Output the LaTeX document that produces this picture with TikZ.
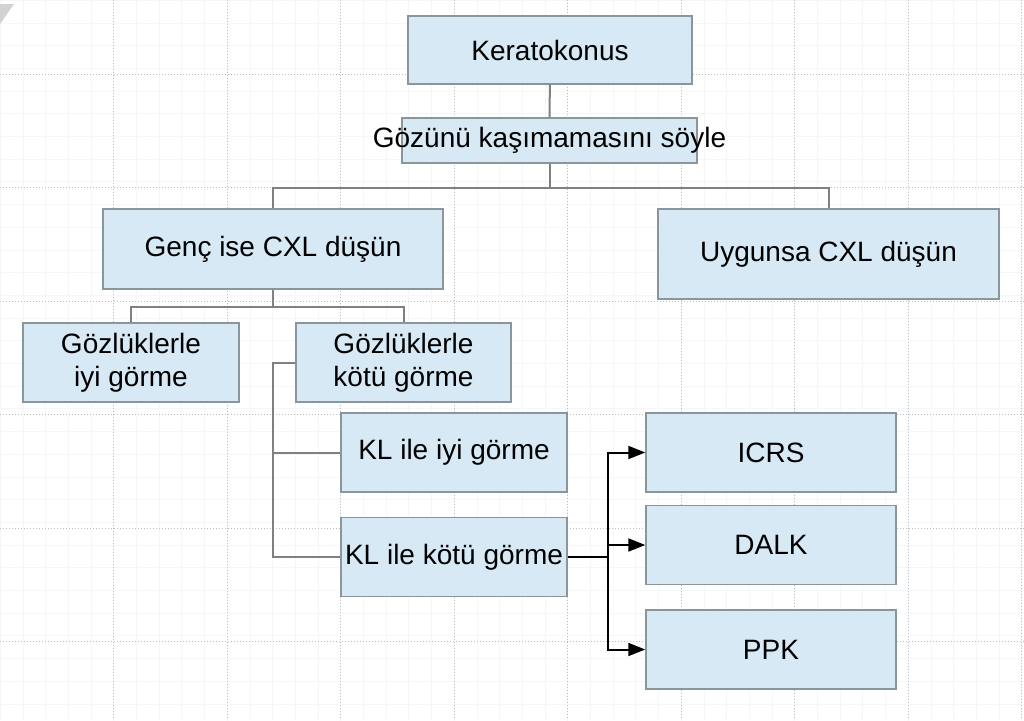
\documentclass[tikz,border=0pt]{standalone}
\usepackage{fontspec}
\setmainfont{Liberation Sans}
\definecolor{boxfill}{HTML}{D6E9F5}
\definecolor{boxline}{HTML}{8A969C}
\definecolor{linkgray}{HTML}{808080}
\definecolor{gridline}{HTML}{F4F7F9}
\definecolor{griddot}{HTML}{BCC0C3}
\usepackage{tikz}
\usetikzlibrary{arrows.meta,positioning,calc}

\begin{document}
\begin{tikzpicture}[
  x=1pt, y=-1pt,
  node distance=12pt,
  kbox/.style={rectangle, draw=boxline, line width=1.5pt, fill=boxfill, inner sep=0pt, align=center, minimum height=79pt, font=\fontsize{28}{33}\selectfont},
  link/.style={draw=linkgray, line width=2pt},
  arr/.style={draw=black, line width=2pt, -{Triangle[length=17pt,width=13pt]}},
]
\fill[white] (0,0) rectangle (1024,720);
\useasboundingbox (0,0) rectangle (1024,720);
\draw[gridline, line width=0.4pt, step=22.7pt] (0,0) grid (1024,720);
\foreach \gx in {113.5,227,...,1022} \draw[griddot, dotted, line width=1pt] (\gx,0) -- (\gx,720);
\foreach \gy in {74,187.5,...,700} \draw[griddot, dotted, line width=1pt] (0,\gy) -- (1024,\gy);
\fill[gray!35] (0,4) -- (14,4) -- (0,24) -- cycle;

\node[kbox, minimum width=284pt, minimum height=68pt] (ker) at (550,50) {Keratokonus};
\node[kbox, minimum width=295pt, minimum height=45pt] (goz) at (549.5,140.5) {\makebox[240pt]{Gözünü kaşımamasını söyle}};
\node[kbox, minimum width=340pt, minimum height=80pt] (genc) at (273,249) {Genç ise CXL düşün};
\node[kbox, minimum width=341pt, minimum height=90pt] (uyg) at (828.5,254) {Uygunsa CXL düşün};
\node[kbox, minimum width=216pt] (gi) at (131,362.5) {Gözlüklerle\\iyi görme};
\node[kbox, minimum width=215pt] (gk) at (403.5,362.5) {Gözlüklerle\\kötü görme};
\node[kbox, minimum width=226pt] (kli) at (454,452.5) {KL ile iyi görme};
\node[kbox, minimum width=226pt, below=24pt of kli] (klk) {\makebox[200pt]{KL ile kötü görme}};
\node[kbox, minimum width=250pt] (icrs) at (771,452.5) {ICRS};
\node[kbox, minimum width=250pt, below=12pt of icrs] (dalk) {DALK};
\node[kbox, minimum width=250pt, below=24pt of dalk] (ppk) {PPK};

\draw[link] (ker) -- (goz);
\draw[link] (goz.south) -- ++(0,24) coordinate (bus1) -| (genc.north);
\draw[link] (bus1) -| (uyg.north);
\draw[link] (genc.south) -- ++(0,17) coordinate (bus2) -| (gi.north);
\draw[link] (bus2) -| (gk.north);
\draw[link] (gk.west) -- ++(-22,0) coordinate (trunk) |- (klk.west);
\draw[link] (trunk) |- (kli.west);
\draw[black, line width=2.6pt] (klk.east) -- ++(40,0) coordinate (fork);
\draw[arr] (fork) |- (icrs.west);
\draw[arr] (fork) |- (dalk.west);
\draw[arr] (fork) |- (ppk.west);
\end{tikzpicture}
\end{document}
